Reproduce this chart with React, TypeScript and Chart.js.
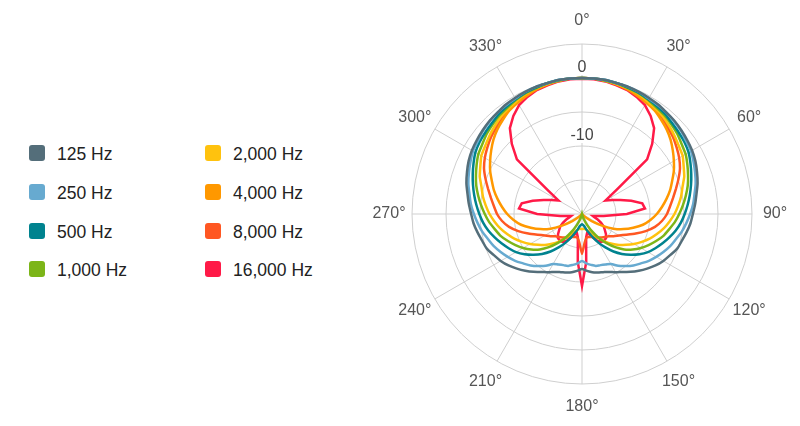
import React, { useEffect, useRef } from 'react';
import { Chart, registerables } from 'chart.js';

Chart.register(...registerables);

const FONT = '"Liberation Sans", Arial, Helvetica, sans-serif';

// Angles of the polar pattern (degrees, clockwise from top)
const ANGLES = [0, 5, 10, 15, 20, 25, 30, 35, 40, 45, 50, 55, 60, 65, 70, 75, 80, 85, 90, 95, 100, 105, 110, 115, 120, 125, 130, 135, 140, 145, 150, 155, 160, 165, 170, 175, 180, 185, 190, 195, 200, 205, 210, 215, 220, 225, 230, 235, 240, 245, 250, 255, 260, 265, 270, 275, 280, 285, 290, 295, 300, 305, 310, 315, 320, 325, 330, 335, 340, 345, 350, 355];
const ANGLE_LABEL_STEP = 30;
const RING_TICKS = [0, -10];
const R_MIN = -20;
const R_MAX = 5;
const R_STEP = 5;

const SERIES_NAMES = ['125 Hz', '250 Hz', '500 Hz', '1,000 Hz', '2,000 Hz', '4,000 Hz', '8,000 Hz', '16,000 Hz'];
const SERIES_COLORS = ['#546e7a', '#67aad0', '#00838f', '#7cb518', '#ffc20e', '#ff9800', '#ff5722', '#ff1a47'];
const SERIES_TENSION = [0.3, 0.3, 0.1, 0.1, 0.1, 0.1, 0.1, 0];

// Sensitivity in dB at each angle
const HZ_125 = [0, 0, 0, -0.1, -0.1, -0.2, -0.3, -0.4, -0.6, -0.7, -0.9, -1.1, -1.3, -1.6, -2.0, -2.4, -2.9, -3.3, -3.7, -4.0, -4.4, -4.8, -5.1, -5.7, -6.2, -6.8, -7.5, -8.2, -8.9, -9.6, -10.1, -10.6, -10.9, -11.1, -11.3, -11.6, -11.9, -11.6, -11.3, -11.1, -10.9, -10.6, -10.1, -9.6, -8.9, -8.2, -7.5, -6.8, -6.2, -5.7, -5.1, -4.8, -4.4, -4.0, -3.7, -3.3, -2.9, -2.4, -2.0, -1.6, -1.3, -1.1, -0.9, -0.7, -0.6, -0.4, -0.3, -0.2, -0.1, -0.1, 0, 0];
const HZ_250 = [0, 0, 0, -0.1, -0.1, -0.2, -0.4, -0.5, -0.6, -0.8, -1.0, -1.3, -1.5, -1.9, -2.3, -2.7, -3.2, -3.6, -4.1, -4.6, -5.1, -5.7, -6.2, -6.8, -7.4, -8.0, -8.7, -9.3, -10.0, -10.7, -11.5, -11.8, -12.0, -12.1, -12.4, -12.7, -13.1, -12.7, -12.4, -12.1, -12.0, -11.8, -11.5, -10.7, -10.0, -9.3, -8.7, -8.0, -7.4, -6.8, -6.2, -5.7, -5.1, -4.6, -4.1, -3.6, -3.2, -2.7, -2.3, -1.9, -1.5, -1.3, -1.0, -0.8, -0.6, -0.5, -0.4, -0.2, -0.1, -0.1, 0, 0];
const HZ_500 = [0, 0, 0, -0.1, -0.2, -0.3, -0.5, -0.7, -0.9, -1.2, -1.4, -1.6, -1.9, -2.4, -2.9, -3.4, -3.9, -4.4, -4.9, -5.4, -6.0, -6.7, -7.4, -8.1, -8.8, -9.7, -10.7, -11.7, -12.8, -14.0, -15.1, -16.2, -17.1, -17.7, -18.2, -18.4, -18.5, -18.4, -18.2, -17.7, -17.1, -16.2, -15.1, -14.0, -12.8, -11.7, -10.7, -9.7, -8.8, -8.1, -7.4, -6.7, -6.0, -5.4, -4.9, -4.4, -3.9, -3.4, -2.9, -2.4, -1.9, -1.6, -1.4, -1.2, -0.9, -0.7, -0.5, -0.3, -0.2, -0.1, 0, 0];
const HZ_1000 = [0, 0, -0.1, -0.1, -0.3, -0.4, -0.6, -0.9, -1.1, -1.4, -1.7, -2.1, -2.4, -2.9, -3.4, -3.9, -4.5, -5.1, -5.7, -6.3, -7.0, -7.6, -8.4, -9.2, -10.0, -10.9, -11.9, -13.1, -14.4, -15.7, -17.1, -18.2, -19.1, -19.7, -20, -20, -20, -20, -20, -19.7, -19.1, -18.2, -17.1, -15.7, -14.4, -13.1, -11.9, -10.9, -10.0, -9.2, -8.4, -7.6, -7.0, -6.3, -5.7, -5.1, -4.5, -3.9, -3.4, -2.9, -2.4, -2.1, -1.7, -1.4, -1.1, -0.9, -0.6, -0.4, -0.3, -0.1, -0.1, 0];
const HZ_2000 = [0, 0, -0.1, -0.2, -0.3, -0.5, -0.8, -1.1, -1.4, -1.8, -2.2, -2.6, -2.9, -3.5, -4.0, -4.7, -5.2, -5.8, -6.4, -7.1, -7.8, -8.6, -9.4, -10.3, -11.2, -12.1, -12.9, -13.8, -14.7, -15.6, -16.3, -16.9, -17.4, -17.6, -17.8, -17.8, -17.8, -17.8, -17.8, -17.6, -17.4, -16.9, -16.3, -15.6, -14.7, -13.8, -12.9, -12.1, -11.2, -10.3, -9.4, -8.6, -7.8, -7.1, -6.4, -5.8, -5.2, -4.7, -4.0, -3.5, -2.9, -2.6, -2.2, -1.8, -1.4, -1.1, -0.8, -0.5, -0.3, -0.2, -0.1, 0];
const HZ_4000 = [0, 0, -0.1, -0.3, -0.5, -0.8, -1.1, -1.4, -1.9, -2.4, -3.0, -3.7, -4.4, -5.1, -5.9, -6.6, -7.4, -8.2, -9.0, -9.9, -10.9, -12.2, -13.5, -14.9, -16.5, -17.9, -19.1, -19.7, -20, -20, -20, -20, -20, -20, -20, -20, -20, -20, -20, -20, -20, -20, -20, -20, -20, -19.7, -19.1, -17.9, -16.5, -14.9, -13.5, -12.2, -10.9, -9.9, -9.0, -8.2, -7.4, -6.6, -5.9, -5.1, -4.4, -3.7, -3.0, -2.4, -1.9, -1.4, -1.1, -0.8, -0.5, -0.3, -0.1, 0];
const HZ_8000 = [0, 0, -0.1, -0.2, -0.4, -0.6, -0.9, -1.2, -1.6, -2.1, -2.5, -3.0, -3.5, -4.1, -4.9, -5.7, -6.4, -7.0, -7.5, -8.2, -9.1, -10.3, -11.6, -12.8, -13.7, -14.3, -14.9, -15.2, -15.5, -15.8, -16.0, -16.3, -16.4, -16.5, -16.4, -15.7, -14.1, -15.7, -16.4, -16.5, -16.4, -16.3, -16.0, -15.8, -15.5, -15.2, -14.9, -14.3, -13.7, -12.8, -11.6, -10.3, -9.1, -8.2, -7.5, -7.0, -6.4, -5.7, -4.9, -4.1, -3.5, -3.0, -2.5, -2.1, -1.6, -1.2, -0.9, -0.6, -0.4, -0.2, -0.1, 0];
const HZ_16000 = [-0.1, -0.1, -0.2, -0.4, -0.6, -1.0, -1.5, -2.4, -3.5, -5.4, -7.5, -13.8, -16.0, -15.1, -14.0, -12.5, -11.0, -10.7, -13.4, -16.8, -18.4, -18.1, -17.5, -16.9, -16.3, -15.9, -15.4, -15.0, -14.9, -15.0, -15.4, -16.2, -16.8, -17.1, -16.5, -12.9, -9.4, -12.9, -16.5, -17.1, -16.8, -16.2, -15.4, -15.0, -14.9, -15.0, -15.4, -15.9, -16.3, -16.9, -17.5, -18.1, -18.4, -16.8, -13.4, -10.7, -11.0, -12.5, -14.0, -15.1, -16.0, -13.8, -7.5, -5.4, -3.5, -2.4, -1.5, -1.0, -0.6, -0.4, -0.2, -0.1];

const SERIES_VALUES = [HZ_125, HZ_250, HZ_500, HZ_1000, HZ_2000, HZ_4000, HZ_8000, HZ_16000];

const polarLabelsPlugin = {
  id: 'polarLabels',
  beforeDatasetsDraw(chart: any) {
    const scale = chart.scales.r;
    const ctx = chart.ctx;
    ctx.save();
    ctx.font = `16px ${FONT}`;
    ctx.textAlign = 'center';
    ctx.textBaseline = 'middle';
    ctx.fillStyle = '#555555';
    ANGLES.forEach((a, i) => {
      if (a % ANGLE_LABEL_STEP !== 0) return;
      const p = scale.getPointPosition(i, scale.drawingArea + 23);
      ctx.fillText(`${a}°`, p.x, p.y);
    });
    RING_TICKS.forEach((v) => {
      const p = scale.getPointPositionForValue(0, v);
      const text = String(v);
      const w = ctx.measureText(text).width;
      ctx.fillStyle = '#ffffff';
      ctx.fillRect(p.x - w / 2 - 3, p.y - 18, w + 6, 15);
      ctx.fillStyle = '#444444';
      ctx.fillText(text, p.x, p.y - 10);
    });
    ctx.restore();
  },
};

const GRID = '#cfcfcf';

export default function App() {
  const ref = useRef<HTMLCanvasElement>(null);

  useEffect(() => {
    const chart = new Chart(ref.current as HTMLCanvasElement, {
      type: 'radar',
      data: {
        labels: ANGLES.map((a) => `${a}°`),
        datasets: SERIES_NAMES.map((name, i) => ({
          label: name,
          data: SERIES_VALUES[i],
          borderColor: SERIES_COLORS[i],
          backgroundColor: SERIES_COLORS[i],
          borderWidth: 2.5,
          pointRadius: 0,
          pointHoverRadius: 0,
          fill: false,
          tension: SERIES_TENSION[i],
        })),
      },
      options: {
        animation: false,
        responsive: true,
        maintainAspectRatio: false,
        events: [],
        layout: { padding: { left: 50, right: 50, top: 44, bottom: 42 } },
        plugins: {
          legend: { display: false },
          tooltip: { enabled: false },
        },
        scales: {
          r: {
            min: R_MIN,
            max: R_MAX,
            startAngle: 0,
            ticks: { stepSize: R_STEP, display: false },
            grid: { circular: true, color: GRID, lineWidth: 1 },
            angleLines: {
              display: true,
              color: GRID,
              lineWidth: (ctx: any) => (ANGLES[ctx.index] % ANGLE_LABEL_STEP === 0 ? 1 : 0),
            },
            pointLabels: { display: false },
          },
        },
      } as any,
      plugins: [polarLabelsPlugin as any],
    });
    return () => chart.destroy();
  }, []);

  const colLeft = [29, 205];
  const rowTop0 = 145;
  const rowGap = 38.8;

  return (
    <div
      style={{
        position: 'absolute',
        left: 0,
        top: 0,
        width: 800,
        height: 426,
        background: '#ffffff',
        overflow: 'hidden',
        fontFamily: FONT,
      }}
    >
      {SERIES_NAMES.map((name, i) => {
        const col = Math.floor(i / 4);
        const row = i % 4;
        const top = rowTop0 + row * rowGap;
        return (
          <React.Fragment key={name}>
            <div
              style={{
                position: 'absolute',
                left: colLeft[col],
                top,
                width: 16,
                height: 16,
                borderRadius: 3,
                background: SERIES_COLORS[i],
              }}
            />
            <div
              style={{
                position: 'absolute',
                left: colLeft[col] + 28,
                top: top - 1,
                fontSize: 17.5,
                lineHeight: '20px',
                color: '#222222',
                whiteSpace: 'nowrap',
              }}
            >
              {name}
            </div>
          </React.Fragment>
        );
      })}
      <div style={{ position: 'absolute', left: 362, top: 0, width: 440, height: 426 }}>
        <canvas ref={ref} />
      </div>
    </div>
  );
}
